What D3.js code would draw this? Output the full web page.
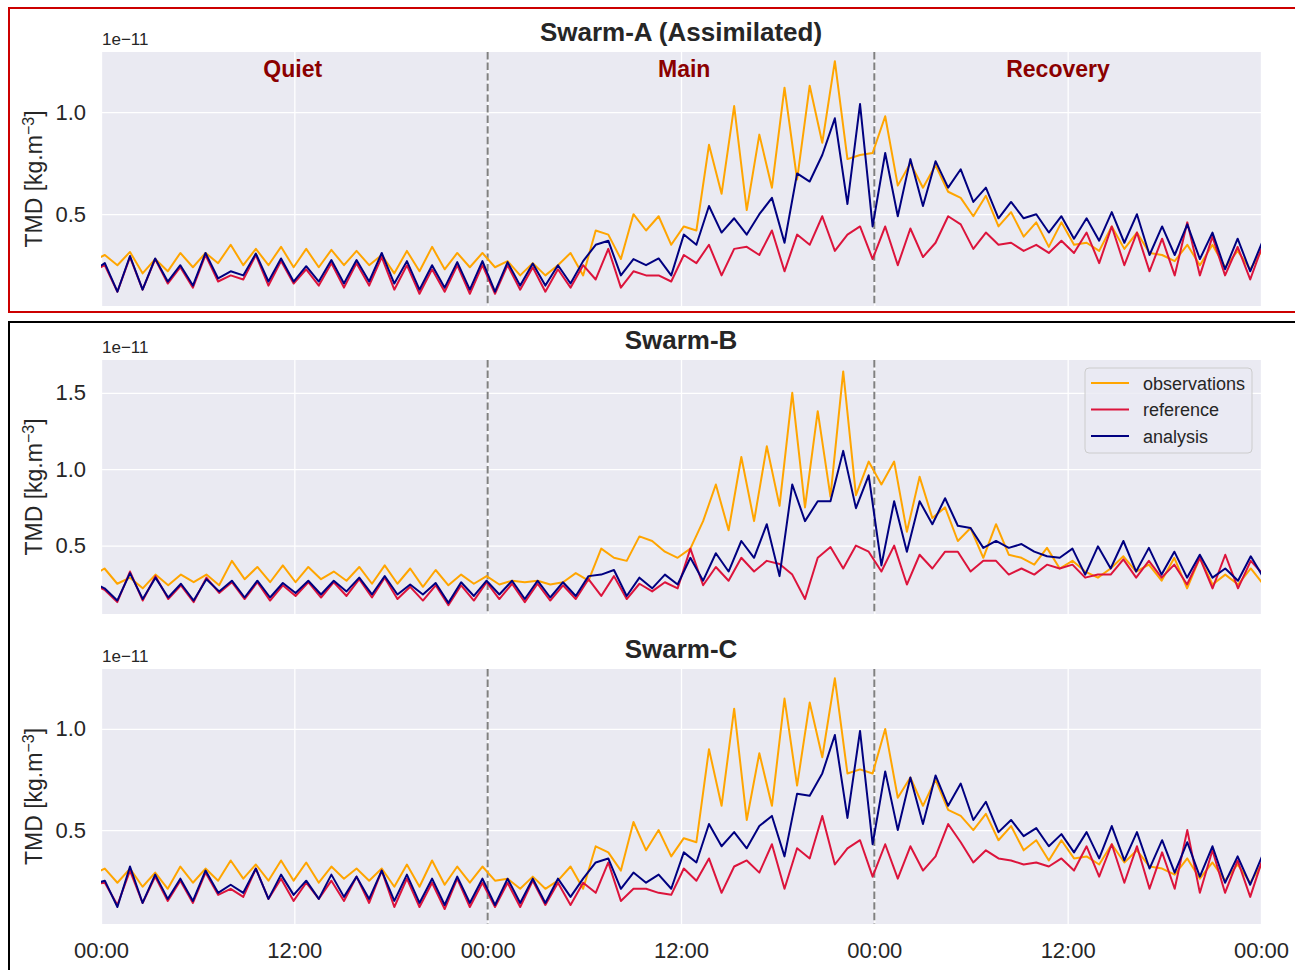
<!DOCTYPE html>
<html>
<head>
<meta charset="utf-8">
<script src="https://cdn.jsdelivr.net/npm/d3@7"></script>
<style>
  body { margin: 0; background: #fff; }
  text { font-family: "Liberation Sans", Arial, sans-serif; fill: #262626; }
</style>
</head>
<body>
<svg id="chart" width="1295" height="970"></svg>
<script>
// TMD in units of 1e-11 kg.m^-3, one sample every half orbit (peak / trough)
var swarmA_obs = [
  0.27, 0.30, 0.25, 0.315, 0.21, 0.28, 0.22, 0.31, 0.24, 0.31, 0.26, 0.35, 0.25, 0.33, 0.25, 0.34,
  0.24, 0.33, 0.24, 0.325, 0.25, 0.32, 0.25, 0.30, 0.21, 0.32, 0.22, 0.34, 0.23, 0.31, 0.24, 0.31,
  0.24, 0.27, 0.20, 0.26, 0.20, 0.25, 0.31, 0.20, 0.42, 0.40, 0.28, 0.50, 0.42, 0.49, 0.35, 0.44,
  0.42, 0.84, 0.60, 1.03, 0.52, 0.89, 0.63, 1.12, 0.67, 1.13, 0.85, 1.25, 0.77, 0.79, 0.80, 0.98,
  0.64, 0.75, 0.63, 0.74, 0.61, 0.58, 0.49, 0.59, 0.44, 0.51, 0.39, 0.46, 0.34, 0.46, 0.35, 0.36,
  0.32, 0.44, 0.33, 0.41, 0.31, 0.30, 0.27, 0.35, 0.25, 0.35, 0.24, 0.32, 0.23, 0.33
];
var swarmA_ref = [
  0.22, 0.25, 0.12, 0.29, 0.13, 0.28, 0.16, 0.24, 0.14, 0.30, 0.17, 0.20, 0.18, 0.30, 0.15, 0.27,
  0.16, 0.23, 0.15, 0.26, 0.14, 0.26, 0.15, 0.29, 0.13, 0.25, 0.11, 0.23, 0.12, 0.25, 0.11, 0.25,
  0.11, 0.25, 0.13, 0.24, 0.12, 0.23, 0.14, 0.25, 0.18, 0.33, 0.14, 0.22, 0.20, 0.20, 0.17, 0.30,
  0.26, 0.35, 0.20, 0.33, 0.34, 0.30, 0.42, 0.22, 0.40, 0.35, 0.49, 0.32, 0.40, 0.44, 0.28, 0.44,
  0.25, 0.43, 0.29, 0.36, 0.49, 0.45, 0.33, 0.41, 0.35, 0.36, 0.32, 0.35, 0.31, 0.37, 0.31, 0.41,
  0.26, 0.44, 0.25, 0.41, 0.22, 0.38, 0.20, 0.46, 0.20, 0.39, 0.20, 0.34, 0.18, 0.35
];
var swarmA_ana = [
  0.22, 0.26, 0.12, 0.295, 0.13, 0.283, 0.17, 0.25, 0.15, 0.31, 0.185, 0.22, 0.20, 0.307, 0.17, 0.283,
  0.17, 0.245, 0.17, 0.275, 0.16, 0.275, 0.17, 0.31, 0.16, 0.27, 0.13, 0.25, 0.14, 0.265, 0.13, 0.27,
  0.12, 0.265, 0.15, 0.258, 0.15, 0.25, 0.16, 0.27, 0.35, 0.37, 0.20, 0.28, 0.25, 0.283, 0.20, 0.40,
  0.35, 0.54, 0.41, 0.48, 0.40, 0.50, 0.58, 0.36, 0.70, 0.66, 0.79, 0.97, 0.55, 1.04, 0.44, 0.80,
  0.49, 0.77, 0.54, 0.76, 0.63, 0.72, 0.56, 0.63, 0.48, 0.56, 0.48, 0.50, 0.41, 0.49, 0.38, 0.48,
  0.37, 0.51, 0.36, 0.50, 0.30, 0.44, 0.30, 0.45, 0.28, 0.41, 0.23, 0.38, 0.22, 0.37
];

var swarmB_obs = [
  0.30, 0.35, 0.25, 0.29, 0.22, 0.31, 0.24, 0.31, 0.26, 0.31, 0.24, 0.40, 0.28, 0.36, 0.26, 0.37,
  0.26, 0.36, 0.28, 0.33, 0.27, 0.36, 0.25, 0.37, 0.25, 0.35, 0.23, 0.34, 0.24, 0.31, 0.25, 0.30,
  0.245, 0.27, 0.26, 0.27, 0.245, 0.26, 0.32, 0.27, 0.48, 0.42, 0.40, 0.56, 0.53, 0.46, 0.42, 0.48,
  0.66, 0.90, 0.60, 1.08, 0.66, 1.15, 0.76, 1.50, 0.75, 1.38, 0.82, 1.64, 0.83, 1.05, 0.90, 1.05,
  0.59, 0.95, 0.68, 0.75, 0.53, 0.615, 0.42, 0.64, 0.44, 0.42, 0.375, 0.485, 0.35, 0.40, 0.33, 0.29,
  0.35, 0.43, 0.33, 0.375, 0.27, 0.42, 0.22, 0.42, 0.245, 0.31, 0.245, 0.35, 0.245
];
var swarmB_ref = [
  0.25, 0.21, 0.13, 0.33, 0.14, 0.30, 0.15, 0.24, 0.13, 0.29, 0.19, 0.26, 0.15, 0.26, 0.14, 0.24,
  0.17, 0.26, 0.16, 0.26, 0.17, 0.28, 0.16, 0.29, 0.15, 0.23, 0.14, 0.24, 0.11, 0.24, 0.14, 0.26,
  0.15, 0.25, 0.13, 0.25, 0.14, 0.24, 0.15, 0.28, 0.17, 0.30, 0.15, 0.25, 0.20, 0.26, 0.22, 0.48,
  0.24, 0.36, 0.27, 0.42, 0.33, 0.40, 0.38, 0.31, 0.15, 0.42, 0.49, 0.35, 0.50, 0.46, 0.33, 0.50,
  0.245, 0.44, 0.35, 0.46, 0.46, 0.33, 0.40, 0.40, 0.31, 0.35, 0.31, 0.375, 0.35, 0.375, 0.29, 0.31,
  0.31, 0.41, 0.29, 0.40, 0.29, 0.375, 0.245, 0.42, 0.22, 0.44, 0.22, 0.40, 0.31
];
var swarmB_ana = [
  0.26, 0.22, 0.14, 0.32, 0.15, 0.29, 0.16, 0.25, 0.14, 0.28, 0.20, 0.27, 0.16, 0.27, 0.16, 0.255,
  0.19, 0.27, 0.18, 0.27, 0.20, 0.29, 0.18, 0.30, 0.18, 0.245, 0.18, 0.255, 0.125, 0.26, 0.17, 0.27,
  0.18, 0.27, 0.15, 0.27, 0.16, 0.26, 0.17, 0.30, 0.31, 0.34, 0.17, 0.29, 0.22, 0.31, 0.245, 0.42,
  0.27, 0.45, 0.33, 0.53, 0.42, 0.64, 0.30, 0.90, 0.66, 0.79, 0.79, 1.12, 0.745, 0.96, 0.37, 0.79,
  0.46, 0.79, 0.64, 0.81, 0.63, 0.615, 0.485, 0.53, 0.485, 0.51, 0.46, 0.43, 0.42, 0.48, 0.31, 0.495,
  0.35, 0.53, 0.33, 0.485, 0.31, 0.46, 0.29, 0.44, 0.29, 0.35, 0.27, 0.43, 0.29
];

var swarmC_obs = [
  0.28, 0.31, 0.24, 0.31, 0.22, 0.29, 0.21, 0.32, 0.24, 0.31, 0.25, 0.35, 0.26, 0.33, 0.25, 0.35,
  0.25, 0.34, 0.24, 0.32, 0.26, 0.31, 0.25, 0.31, 0.22, 0.33, 0.22, 0.35, 0.23, 0.32, 0.24, 0.32,
  0.25, 0.26, 0.21, 0.27, 0.21, 0.25, 0.32, 0.21, 0.42, 0.39, 0.30, 0.54, 0.40, 0.50, 0.37, 0.46,
  0.44, 0.90, 0.62, 1.10, 0.55, 0.88, 0.62, 1.15, 0.72, 1.13, 0.86, 1.25, 0.78, 0.80, 0.78, 1.00,
  0.66, 0.76, 0.62, 0.75, 0.60, 0.57, 0.50, 0.58, 0.45, 0.52, 0.40, 0.45, 0.35, 0.45, 0.36, 0.37,
  0.33, 0.43, 0.34, 0.40, 0.32, 0.31, 0.28, 0.36, 0.26, 0.34, 0.25, 0.33, 0.24, 0.34
];
var swarmC_ref = [
  0.23, 0.24, 0.13, 0.30, 0.14, 0.27, 0.15, 0.25, 0.14, 0.29, 0.18, 0.21, 0.17, 0.31, 0.16, 0.26,
  0.15, 0.24, 0.16, 0.25, 0.15, 0.27, 0.14, 0.30, 0.12, 0.26, 0.12, 0.24, 0.11, 0.26, 0.12, 0.24,
  0.12, 0.24, 0.12, 0.25, 0.13, 0.24, 0.13, 0.24, 0.19, 0.34, 0.15, 0.21, 0.21, 0.19, 0.18, 0.31,
  0.25, 0.36, 0.19, 0.32, 0.35, 0.29, 0.43, 0.21, 0.41, 0.36, 0.57, 0.33, 0.41, 0.45, 0.27, 0.43,
  0.26, 0.42, 0.30, 0.37, 0.53, 0.44, 0.34, 0.40, 0.36, 0.35, 0.33, 0.34, 0.32, 0.36, 0.30, 0.42,
  0.27, 0.43, 0.24, 0.42, 0.21, 0.39, 0.21, 0.50, 0.19, 0.40, 0.19, 0.35, 0.17, 0.36
];
var swarmC_ana = [
  0.23, 0.25, 0.12, 0.32, 0.14, 0.28, 0.16, 0.26, 0.15, 0.30, 0.19, 0.23, 0.19, 0.31, 0.16, 0.28,
  0.18, 0.25, 0.16, 0.28, 0.17, 0.27, 0.16, 0.30, 0.15, 0.28, 0.14, 0.26, 0.13, 0.27, 0.14, 0.26,
  0.13, 0.26, 0.14, 0.26, 0.14, 0.26, 0.17, 0.26, 0.34, 0.36, 0.21, 0.29, 0.24, 0.28, 0.21, 0.39,
  0.34, 0.53, 0.42, 0.49, 0.41, 0.52, 0.57, 0.37, 0.68, 0.67, 0.78, 0.97, 0.56, 0.99, 0.43, 0.79,
  0.50, 0.76, 0.53, 0.77, 0.62, 0.73, 0.55, 0.64, 0.49, 0.55, 0.47, 0.51, 0.42, 0.48, 0.39, 0.49,
  0.36, 0.52, 0.35, 0.49, 0.31, 0.45, 0.29, 0.44, 0.27, 0.42, 0.24, 0.37, 0.23, 0.38
];

// sample times in hours since the start (half orbital period steps)
var halfOrbitAC = 0.78125, halfOrbitB = 0.7905;
var hoursAC = d3.range(swarmA_obs.length).map(function(i) { return -0.544 + i * halfOrbitAC; });
var hoursB = d3.range(swarmB_obs.length).map(function(i) { return -0.5715 + i * halfOrbitB; });

var xTickHours = [0, 12, 24, 36, 48, 60, 72];
var xTickLabels = ["00:00", "12:00", "00:00", "12:00", "00:00", "12:00", "00:00"];
var phaseBounds = [24, 48];
var phaseNames = ["Quiet", "Main", "Recovery"];
var phaseHours = [11.9, 36.2, 59.4];
var seriesNames = ["observations", "reference", "analysis"];
var seriesColors = ["#FFA500", "#DC143C", "#000080"];

var svg = d3.select("#chart");
svg.append("rect").attr("width", 1295).attr("height", 970).attr("fill", "#fff");

var left = 101, right = 1261, width = right - left;
var x = d3.scaleLinear().domain([0, 72]).range([0, width]);

var panels = [
    { id: "A", title: "Swarm-A (Assimilated)", top: 52, bottom: 306, yDomain: [0.05, 1.295], yTicks: [0.5, 1.0],
      hours: hoursAC, series: [swarmA_obs, swarmA_ref, swarmA_ana], phases: true },
    { id: "B", title: "Swarm-B", top: 360, bottom: 614, yDomain: [0.052, 1.715], yTicks: [0.5, 1.0, 1.5],
      hours: hoursB, series: [swarmB_obs, swarmB_ref, swarmB_ana], legend: true },
    { id: "C", title: "Swarm-C", top: 669, bottom: 924, yDomain: [0.036, 1.296], yTicks: [0.5, 1.0],
      hours: hoursAC, series: [swarmC_obs, swarmC_ref, swarmC_ana], xLabels: true }
];

// frames round the assimilated panel and the two validation panels
svg.append("rect")
    .attr("x", 9).attr("y", 8).attr("width", 1300).attr("height", 304)
    .attr("fill", "none").attr("stroke", "#cc0000").attr("stroke-width", 2);
svg.append("rect")
    .attr("x", 9).attr("y", 322).attr("width", 1300).attr("height", 700)
    .attr("fill", "none").attr("stroke", "#000").attr("stroke-width", 2);

panels.forEach(function(p) {
    var height = p.bottom - p.top;
    var y = d3.scaleLinear().domain(p.yDomain).range([height, 0]);
    var g = svg.append("g").attr("transform", "translate(" + left + "," + p.top + ")");

    g.append("rect").attr("width", width).attr("height", height).attr("fill", "#EAEAF2");

    // white grid
    var gridY = g.append("g")
        .call(d3.axisLeft(y).tickValues(p.yTicks).tickSize(-width).tickFormat(""));
    var gridX = g.append("g").attr("transform", "translate(0," + height + ")")
        .call(d3.axisBottom(x).tickValues(xTickHours).tickSize(height).tickFormat(""));
    gridX.selectAll("line").attr("y2", -height);
    [gridX, gridY].forEach(function(a) {
        a.select(".domain").remove();
        a.selectAll("line").attr("stroke", "#fff").attr("stroke-width", 1.3);
    });

    // y tick labels
    var yAxis = g.append("g")
        .call(d3.axisLeft(y).tickValues(p.yTicks).tickSize(0).tickPadding(15).tickFormat(d3.format(".1f")));
    yAxis.select(".domain").remove();
    yAxis.selectAll("text").attr("font-size", 22).attr("fill", "#262626")
        .attr("font-family", '"Liberation Sans", Arial, sans-serif');

    if (p.xLabels) {
        var xAxis = g.append("g").attr("transform", "translate(0," + height + ")")
            .call(d3.axisBottom(x).tickValues(xTickHours).tickSize(0).tickPadding(18)
                .tickFormat(function(d, i) { return xTickLabels[i]; }));
        xAxis.select(".domain").remove();
        xAxis.selectAll("text").attr("font-size", 22).attr("fill", "#262626")
            .attr("font-family", '"Liberation Sans", Arial, sans-serif');
    }

    // phase boundaries
    g.selectAll(".bound").data(phaseBounds).enter().append("line")
        .attr("x1", function(d) { return x(d); }).attr("x2", function(d) { return x(d); })
        .attr("y1", 0).attr("y2", height)
        .attr("stroke", "#808080").attr("stroke-width", 2).attr("stroke-dasharray", "7.4,3.2");

    // series
    g.append("clipPath").attr("id", "clip" + p.id)
        .append("rect").attr("width", width).attr("height", height);
    var line = d3.line()
        .x(function(d, i) { return x(p.hours[i]); })
        .y(function(d) { return y(d); });
    g.append("g").attr("clip-path", "url(#clip" + p.id + ")")
        .selectAll("path").data(p.series).enter().append("path")
        .attr("d", line)
        .attr("fill", "none")
        .attr("stroke", function(d, i) { return seriesColors[i]; })
        .attr("stroke-width", 2)
        .attr("stroke-linejoin", "round");

    if (p.phases) {
        g.selectAll(".phase").data(phaseNames).enter().append("text")
            .attr("x", function(d, i) { return x(phaseHours[i]); })
            .attr("y", 25)
            .attr("text-anchor", "middle")
            .attr("font-size", 23).attr("font-weight", "bold")
            .style("fill", "#8B0000")
            .text(function(d) { return d; });
    }

    // title, offset text and y label
    g.append("text").attr("x", width / 2).attr("y", -11.5)
        .attr("text-anchor", "middle").attr("font-size", 26).attr("font-weight", "bold")
        .text(p.title);
    g.append("text").attr("x", 1).attr("y", -7).attr("font-size", 17).text("1e\u221211");

    var ylab = g.append("text")
        .attr("transform", "translate(-59," + (height / 2) + ") rotate(-90)")
        .attr("text-anchor", "middle").attr("font-size", 23);
    ylab.append("tspan").text("TMD [kg.m");
    ylab.append("tspan").attr("dy", -8).attr("font-size", 16).text("\u22123");
    ylab.append("tspan").attr("dy", 8).text("]");

    if (p.legend) {
        var lg = g.append("g").attr("transform", "translate(" + (1085 - left) + "," + (368 - p.top) + ")");
        lg.append("rect").attr("width", 167).attr("height", 85).attr("rx", 4)
            .attr("fill", "#EAEAF2").attr("fill-opacity", 0.8)
            .attr("stroke", "#cccccc").attr("stroke-width", 1);
        var item = lg.selectAll(".item").data(seriesNames).enter().append("g")
            .attr("transform", function(d, i) { return "translate(0," + (15 + i * 26.5) + ")"; });
        item.append("line").attr("x1", 6).attr("x2", 44)
            .attr("stroke", function(d, i) { return seriesColors[i]; }).attr("stroke-width", 2);
        item.append("text").attr("x", 58).attr("y", 6.5).attr("font-size", 18)
            .text(function(d) { return d; });
    }
});
</script>
</body>
</html>
